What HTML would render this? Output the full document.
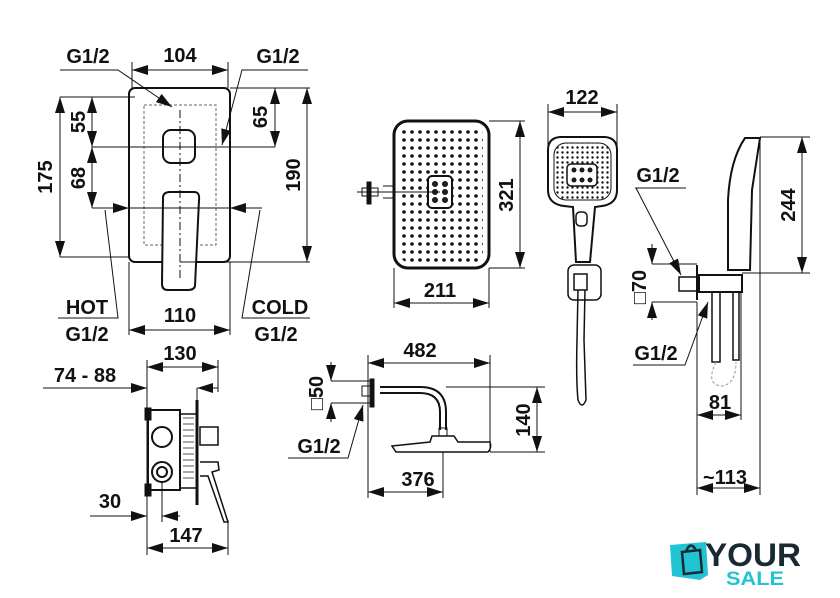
<!DOCTYPE html>
<html><head><meta charset="utf-8"><style>
html,body{margin:0;padding:0;background:#fff}
svg{display:block}
text{font-family:"Liberation Sans",Arial,sans-serif;font-weight:bold;fill:#111}
</style></head><body>
<svg width="840" height="598" viewBox="0 0 840 598" xmlns="http://www.w3.org/2000/svg">
<defs>
<marker id="a" viewBox="0 0 16 10" refX="16" refY="5" markerWidth="16" markerHeight="10" markerUnits="userSpaceOnUse" orient="auto-start-reverse"><path d="M0,0L16,5L0,10z" fill="#111"/></marker>
<pattern id="dots" width="8" height="8" patternUnits="userSpaceOnUse"><circle cx="4" cy="4" r="1.8" fill="#111"/></pattern>
<pattern id="dots2" width="5" height="5" patternUnits="userSpaceOnUse"><circle cx="2.5" cy="2.5" r="1.2" fill="#111"/></pattern>
</defs>
<g stroke="#111" fill="none" stroke-width="1">
<!-- Panel 1 mixer front -->
<rect x="129" y="88" width="101" height="174" rx="6" stroke-width="2"/>
<rect x="144" y="105" width="72" height="140" stroke-dasharray="3,2" stroke="#666"/>
<rect x="163" y="130" width="32" height="33" rx="8" stroke-width="2"/>
<path d="M163,198 Q163,192 170,192 L194,192 Q200,192 199,200 L195,286 Q194,290 188,290 L168,290 Q162,290 162,284 Z" stroke-width="2" fill="#fff"/>
<line x1="180" y1="110" x2="180" y2="280" stroke-dasharray="8,3,2,3"/>
<line x1="60" y1="97" x2="135" y2="97"/>
<line x1="92" y1="147" x2="275" y2="147"/>
<line x1="92" y1="208" x2="262" y2="208"/>
<line x1="60" y1="257" x2="130" y2="257"/>
<line x1="230" y1="88" x2="310" y2="88"/>
<line x1="180" y1="262" x2="310" y2="262"/>
<line x1="132" y1="62" x2="132" y2="88"/><line x1="228" y1="62" x2="228" y2="88"/>
<line x1="132" y1="70" x2="228" y2="70" marker-start="url(#a)" marker-end="url(#a)"/>
<line x1="60" y1="97" x2="60" y2="257" marker-start="url(#a)" marker-end="url(#a)"/>
<line x1="92" y1="97" x2="92" y2="147" marker-start="url(#a)" marker-end="url(#a)"/>
<line x1="92" y1="147" x2="92" y2="208" marker-start="url(#a)" marker-end="url(#a)"/>
<line x1="275" y1="88" x2="275" y2="147" marker-start="url(#a)" marker-end="url(#a)"/>
<line x1="307" y1="88" x2="307" y2="262" marker-start="url(#a)" marker-end="url(#a)"/>
<path d="M60,70 L118,70 L172,107" marker-end="url(#a)"/>
<path d="M308,70 L242,70 L222,145" marker-end="url(#a)"/>
<path d="M95,208 L129,208" marker-end="url(#a)"/>
<path d="M262,208 L230,208" marker-end="url(#a)"/>
<path d="M58,318 L118,318 L105,210"/>
<path d="M310,318 L242,318 L260,210"/>
<line x1="129" y1="262" x2="129" y2="335"/><line x1="230" y1="262" x2="230" y2="335"/>
<line x1="129" y1="330" x2="230" y2="330" marker-start="url(#a)" marker-end="url(#a)"/>
<!-- Panel 2 mixer side -->
<line x1="147" y1="360" x2="147" y2="555"/><line x1="218" y1="360" x2="218" y2="392"/>
<line x1="147" y1="367" x2="218" y2="367" marker-start="url(#a)" marker-end="url(#a)"/>
<path d="M43,388 L147,388" marker-end="url(#a)"/>
<path d="M218,388 L197,388" marker-end="url(#a)"/>
<line x1="197" y1="388" x2="197" y2="402"/>
<rect x="148" y="410" width="32" height="80" stroke-width="2"/>
<rect x="145" y="408" width="6" height="12" fill="#111"/><rect x="145" y="484" width="6" height="12" fill="#111"/>
<rect x="180" y="414" width="17" height="74" stroke-width="1.5"/>
<path d="M183,418H194M183,424H194M183,430H194M183,436H194M183,442H194M183,448H194M183,454H194M183,460H194M183,466H194M183,472H194M183,478H194" stroke="#555"/>
<line x1="197" y1="400" x2="197" y2="505" stroke-width="3"/>
<rect x="200" y="427" width="18" height="18" stroke-width="1.5"/>
<path d="M200,462 L218,462 L219,470 L212,472 L228,522 L224,522 L208,476 L200,476" stroke-width="1.5"/>
<circle cx="162" cy="437" r="10" stroke-width="2"/>
<circle cx="162" cy="472" r="10" stroke-width="2"/><circle cx="162" cy="472" r="5" stroke-width="2"/>
<line x1="162" y1="482" x2="162" y2="522"/><line x1="228" y1="520" x2="228" y2="555"/>
<path d="M90,516 L147,516" marker-end="url(#a)"/>
<path d="M180,516 L162,516" marker-end="url(#a)"/>
<line x1="147" y1="548" x2="228" y2="548" marker-start="url(#a)" marker-end="url(#a)"/>
<!-- Panel 3 rain head top -->
<rect x="394" y="121" width="95" height="147" rx="14" stroke-width="3"/>
<rect x="400" y="127" width="83" height="135" rx="8" fill="url(#dots)" stroke="none"/>
<rect x="428" y="176" width="24" height="32" rx="4" stroke-width="2" fill="#fff"/>
<circle cx="435" cy="184" r="2.5" fill="#222"/><circle cx="445" cy="184" r="2.5" fill="#222"/>
<circle cx="435" cy="192" r="2.5" fill="#222"/><circle cx="445" cy="192" r="2.5" fill="#222"/>
<circle cx="435" cy="200" r="2.5" fill="#222"/><circle cx="445" cy="200" r="2.5" fill="#222"/>
<line x1="357" y1="192" x2="440" y2="192"/>
<rect x="367" y="182" width="4" height="22" fill="#111"/>
<rect x="362" y="188" width="16" height="8"/>
<line x1="383" y1="186" x2="393" y2="186"/><line x1="383" y1="198" x2="393" y2="198"/>
<line x1="489" y1="121" x2="525" y2="121"/><line x1="489" y1="268" x2="525" y2="268"/>
<line x1="520" y1="121" x2="520" y2="268" marker-start="url(#a)" marker-end="url(#a)"/>
<line x1="394" y1="268" x2="394" y2="308"/><line x1="489" y1="268" x2="489" y2="308"/>
<line x1="394" y1="303" x2="489" y2="303" marker-start="url(#a)" marker-end="url(#a)"/>
<!-- Hand shower front -->
<path d="M548,150 Q548,138 560,137 L605,137 Q617,138 617,150 L617,190 Q617,204 602,206 L595,207 L590,262 L576,262 L573,207 L564,206 Q548,204 548,190 Z" stroke-width="2"/>
<rect x="554" y="143" width="57" height="57" rx="12" fill="url(#dots2)"/>
<rect x="567" y="164" width="30" height="22" rx="4" fill="#fff" stroke-width="1.5"/>
<circle cx="574" cy="170" r="2" fill="#222"/><circle cx="582" cy="170" r="2" fill="#222"/><circle cx="590" cy="170" r="2" fill="#222"/>
<circle cx="574" cy="180" r="2" fill="#222"/><circle cx="582" cy="180" r="2" fill="#222"/><circle cx="590" cy="180" r="2" fill="#222"/>
<rect x="576" y="212" width="11" height="14" rx="4" stroke-width="1.5"/>
<rect x="568" y="265" width="33" height="35" rx="6" stroke-width="1.5"/>
<rect x="574" y="274" width="13" height="16" stroke-width="1.5"/>
<path d="M578,290 L577,340 Q576,380 578,400 Q582,410 586,400 Q585,370 584,340 L585,290" stroke-width="1.5"/>
<line x1="548" y1="104" x2="548" y2="150"/><line x1="617" y1="104" x2="617" y2="150"/>
<line x1="548" y1="112" x2="617" y2="112" marker-start="url(#a)" marker-end="url(#a)"/>
<!-- Overhead shower side -->
<line x1="368" y1="355" x2="368" y2="498"/><line x1="490" y1="355" x2="490" y2="452"/>
<line x1="368" y1="363" x2="490" y2="363" marker-start="url(#a)" marker-end="url(#a)"/>
<line x1="331" y1="362" x2="331" y2="381" marker-end="url(#a)"/>
<line x1="331" y1="422" x2="331" y2="403" marker-end="url(#a)"/>
<line x1="331" y1="381" x2="370" y2="381"/><line x1="331" y1="403" x2="370" y2="403"/>
<rect x="370" y="379" width="4" height="28" fill="#111"/>
<rect x="362" y="386" width="8" height="10"/>
<path d="M380,387 L420,387 Q446,387 446,412 L446,430 M380,393 L420,393 Q440,393 440,412 L440,430" stroke-width="2"/>
<rect x="439" y="428" width="8" height="8"/>
<path d="M432,436 L454,436 L458,442 L490,442 Q492,448 488,452 L396,452 L392,446 L430,442 Z" stroke-width="1.5"/>
<line x1="446" y1="387" x2="545" y2="387"/><line x1="490" y1="452" x2="545" y2="452"/>
<line x1="537" y1="387" x2="537" y2="452" marker-start="url(#a)" marker-end="url(#a)"/>
<line x1="443" y1="452" x2="443" y2="498"/>
<line x1="368" y1="492" x2="443" y2="492" marker-start="url(#a)" marker-end="url(#a)"/>
<path d="M288,458 L348,458 L363,405" marker-end="url(#a)"/>
<!-- Right hand shower side -->
<path d="M745,138 L760,138 L752,190 L750,270 L728,270 L728,200 Q730,160 745,138 Z" stroke-width="2"/>
<rect x="699" y="275" width="43" height="17" stroke-width="2"/>
<rect x="679" y="277" width="20" height="14" stroke-width="1.5"/>
<line x1="697" y1="265" x2="697" y2="300" stroke-width="2"/>
<rect x="712" y="292" width="8" height="70" stroke-width="1.5"/>
<rect x="733" y="292" width="6" height="68" stroke-width="1.5"/>
<path d="M716,362 Q705,385 722,386 Q736,384 736,362" stroke="#999" stroke-dasharray="3,2"/>
<line x1="760" y1="137" x2="810" y2="137"/><line x1="742" y1="273" x2="810" y2="273"/>
<line x1="802" y1="137" x2="802" y2="273" marker-start="url(#a)" marker-end="url(#a)"/>
<line x1="652" y1="244" x2="652" y2="264" marker-end="url(#a)"/>
<line x1="652" y1="320" x2="652" y2="302" marker-end="url(#a)"/>
<line x1="652" y1="264" x2="697" y2="264"/><line x1="652" y1="302" x2="697" y2="302"/>
<path d="M635,188 L686,188 M636,188 L681,275" marker-end="url(#a)"/>
<path d="M633,365 L685,365 L708,302" marker-end="url(#a)"/>
<line x1="697" y1="302" x2="697" y2="495"/><line x1="741" y1="292" x2="741" y2="420"/>
<line x1="760" y1="138" x2="760" y2="495"/>
<line x1="697" y1="415" x2="741" y2="415" marker-start="url(#a)" marker-end="url(#a)"/>
<line x1="697" y1="488" x2="760" y2="488" marker-start="url(#a)" marker-end="url(#a)"/>
</g>
<g font-size="20">
<text x="180" y="62" text-anchor="middle">104</text>
<text x="88" y="63" text-anchor="middle">G1/2</text>
<text x="278" y="63" text-anchor="middle">G1/2</text>
<text x="180" y="322" text-anchor="middle">110</text>
<text x="87" y="314" text-anchor="middle">HOT</text>
<text x="280" y="314" text-anchor="middle">COLD</text>
<text x="87" y="341" text-anchor="middle">G1/2</text>
<text x="276" y="341" text-anchor="middle">G1/2</text>
<text transform="translate(52,177) rotate(-90)" text-anchor="middle">175</text>
<text transform="translate(85,122) rotate(-90)" text-anchor="middle">55</text>
<text transform="translate(85,178) rotate(-90)" text-anchor="middle">68</text>
<text transform="translate(267,117) rotate(-90)" text-anchor="middle">65</text>
<text transform="translate(300,175) rotate(-90)" text-anchor="middle">190</text>
<text x="180" y="360" text-anchor="middle">130</text>
<text x="85" y="382" text-anchor="middle">74 - 88</text>
<text x="110" y="508" text-anchor="middle">30</text>
<text x="186" y="542" text-anchor="middle">147</text>
<text x="440" y="297" text-anchor="middle">211</text>
<text transform="translate(513,195) rotate(-90)" text-anchor="middle">321</text>
<text x="582" y="104" text-anchor="middle">122</text>
<text x="420" y="357" text-anchor="middle">482</text>
<text transform="translate(323,393) rotate(-90)" text-anchor="middle">□50</text>
<text x="319" y="453" text-anchor="middle">G1/2</text>
<text transform="translate(530,420) rotate(-90)" text-anchor="middle">140</text>
<text x="418" y="486" text-anchor="middle">376</text>
<text x="658" y="182" text-anchor="middle">G1/2</text>
<text x="656" y="360" text-anchor="middle">G1/2</text>
<text transform="translate(646,287) rotate(-90)" text-anchor="middle">□70</text>
<text transform="translate(795,205) rotate(-90)" text-anchor="middle">244</text>
<text x="720" y="409" text-anchor="middle">81</text>
<text x="725" y="484" text-anchor="middle">~113</text>
</g>
<!-- Logo -->
<g>
<path d="M670,545 L706,542 L708,575 L700,580 L672,576 Z" fill="#22c3d3"/>
<path d="M682,552 L700,550 L702,572 L684,574 Z" fill="none" stroke="#1a2a33" stroke-width="2.5"/>
<path d="M686,552 Q690,540 696,550" fill="none" stroke="#1a2a33" stroke-width="2.5"/>
<text x="705" y="566" font-size="32" style="fill:#1a2a33;font-weight:900" textLength="96" lengthAdjust="spacingAndGlyphs">YOUR</text>
<text x="726" y="585" font-size="19" style="fill:#22c3d3;font-weight:900" textLength="58" lengthAdjust="spacingAndGlyphs">SALE</text>
</g>
</svg>
</body></html>
